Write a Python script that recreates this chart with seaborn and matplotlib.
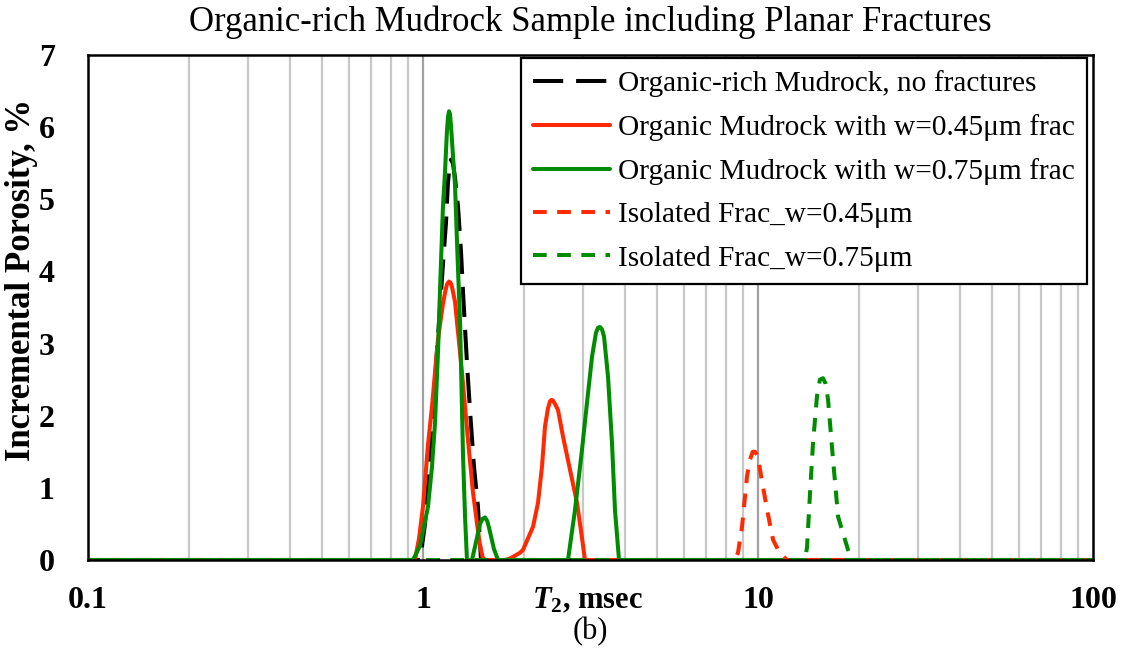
import numpy as np
import pandas as pd
import matplotlib
matplotlib.use("Agg")
import matplotlib.pyplot as plt
import seaborn as sns

# ---------------- data ----------------
t2_base = [0.1, 0.98, 1.014, 1.049, 1.086, 1.124, 1.147, 1.171, 1.187, 1.2, 1.212, 1.228, 1.246,
           1.272, 1.299, 1.317, 1.353, 1.381, 1.42, 1.459, 1.49, 100]
por_base = [0, 0, 0.5, 1.44, 2.5, 3.5, 4.1, 4.67, 5.23, 5.45, 5.55, 5.5, 5.3,
            4.9, 4.26, 3.7, 2.73, 2.08, 1.29, 0.74, 0, 0]

t2_w45 = [0.1, 0.9465, 0.973, 1.0, 1.035, 1.064, 1.086, 1.109, 1.147, 1.165, 1.179, 1.196,
          1.21, 1.221, 1.246, 1.3075, 1.362, 1.409, 1.45, 1.48, 1.51, 1.54,
          1.757, 1.8185, 1.948, 1.988, 2.13, 2.204, 2.266, 2.313, 2.36, 2.394, 2.42, 2.444,
          2.48, 2.529, 2.618, 2.747, 2.883, 2.98, 3.045, 100]
por_w45 = [0, 0, 0.3, 0.74, 1.6, 2.13, 2.6, 3.07, 3.55, 3.72, 3.82, 3.86,
           3.84, 3.78, 3.58, 2.6, 1.67, 0.95, 0.5, 0.2, 0.02, 0,
           0, 0.02, 0.1, 0.14, 0.46, 0.79, 1.3, 1.85, 2.1, 2.2, 2.22, 2.21,
           2.16, 2.08, 1.71, 1.25, 0.79, 0.32, 0.0, 0]

t2_w75 = [0.1, 0.9336, 0.98, 1.035, 1.064, 1.086, 1.109, 1.124, 1.147, 1.163, 1.179,
          1.188, 1.196, 1.204, 1.213, 1.229, 1.246, 1.268, 1.29, 1.317, 1.335, 1.353,
          1.4005, 1.44, 1.48, 1.505, 1.5315, 1.555, 1.574, 1.629, 1.675,
          2.709, 2.842, 2.983, 3.087, 3.196, 3.284, 3.33, 3.376, 3.42, 3.470, 3.567,
          3.666, 3.742, 3.847, 100]
por_w75 = [0, 0, 0.2, 0.74, 1.3, 1.9, 2.9, 3.74, 4.9, 5.37, 5.95,
           6.15, 6.22, 6.18, 6.0, 5.6, 5.2, 4.2, 3.29, 1.43, 0.6, 0,
           0, 0.25, 0.5, 0.57, 0.59, 0.54, 0.45, 0.15, 0,
           0, 0.69, 1.53, 2.18, 2.82, 3.15, 3.22, 3.23, 3.2, 3.1, 2.54,
           1.62, 0.69, 0, 0]

t2_iso45 = [0.1, 8.537, 8.714, 8.959, 9.272, 9.465, 9.64, 9.795, 9.96, 10.14,
            10.64, 11.09, 11.6, 12.21, 100]
por_iso45 = [0, 0, 0.1, 0.46, 1.16, 1.39, 1.5, 1.5, 1.45, 1.25,
             0.7, 0.28, 0.1, 0, 0]

t2_iso75 = [0.1, 13.81, 14.01, 14.30, 14.60, 15.00, 15.3, 15.63, 15.9, 16.18,
            16.75, 17.34, 18.57, 19.08, 100]
por_iso75 = [0, 0, 0.18, 0.93, 1.63, 2.27, 2.5, 2.52, 2.45, 2.23,
             1.39, 0.6, 0.14, 0, 0]

labels = ["Organic-rich Mudrock, no fractures",
          "Organic Mudrock with w=0.45\u03bcm frac",
          "Organic Mudrock with w=0.75\u03bcm frac",
          "Isolated Frac_w=0.45\u03bcm",
          "Isolated Frac_w=0.75\u03bcm"]
x_ticks = [0.1, 1, 10, 100]
x_ticklabels = ["0.1", "1", "10", "100"]
y_ticks = [0, 1, 2, 3, 4, 5, 6, 7]

title = "Organic-rich Mudrock Sample including Planar Fractures"
ylabel = "Incremental Porosity, %"

# ---------------- style ----------------
sns.set_theme(style="white")
plt.rcParams['font.family'] = ['Liberation Serif', 'DejaVu Serif']
plt.rcParams['mathtext.fontset'] = 'custom'
plt.rcParams['mathtext.rm'] = 'Liberation Serif'
plt.rcParams['mathtext.it'] = 'Liberation Serif:italic'
plt.rcParams['mathtext.bf'] = 'Liberation Serif:bold'
plt.rcParams['mathtext.bfit'] = 'Liberation Serif:italic:bold'
for k in ['text.color', 'axes.labelcolor', 'xtick.color', 'ytick.color']:
    plt.rcParams[k] = 'black'

RED = "#FF2A00"
GREEN = "#008C00"
LW = 2.9

fig = plt.figure(figsize=(11.22, 6.54), dpi=100)
ax = fig.add_axes([88/1122, 1-560/654, (1093-88)/1122, (560-55)/654])

series = [
    (t2_base, por_base, "black", (0, (7.5, 3.2))),
    (t2_w45, por_w45, RED, "-"),
    (t2_w75, por_w75, GREEN, "-"),
    (t2_iso45, por_iso45, RED, (0, (3.4, 2.6))),
    (t2_iso75, por_iso75, GREEN, (0, (3.4, 2.6))),
]
for (x, y, c, ls), lab in zip(series, labels):
    df = pd.DataFrame({"T2": x, "por": y})
    sns.lineplot(data=df, x="T2", y="por", ax=ax, color=c, linestyle=ls,
                 linewidth=LW, estimator=None, sort=False, label=lab)

ax.set_xscale("log")
ax.set_xlim(0.1, 100)
ax.set_ylim(0, 7)

# gridlines
for dec in [0.1, 1, 10]:
    for m in range(2, 10):
        ax.axvline(dec * m, color="#c8c8c8", lw=1.6, zorder=0)
for v in [1, 10]:
    ax.axvline(v, color="#a0a0a0", lw=1.6, zorder=0)

ax.set_xticks(x_ticks)
ax.set_xticklabels(x_ticklabels)
ax.set_xticks([], minor=True)
ax.set_yticks(y_ticks)
ax.tick_params(axis="both", length=0, labelsize=23)
ax.tick_params(axis="x", pad=19)
ax.tick_params(axis="y", pad=24)
for lbl in ax.get_xticklabels() + ax.get_yticklabels():
    lbl.set_fontweight("bold")

for sp in ax.spines.values():
    sp.set_color("black")
    sp.set_linewidth(1.8)

ax.set_xlabel("")
ax.set_ylabel("")
fig.text(22/1122, 1-280/654, ylabel, fontsize=25, fontweight="bold",
         rotation=90, ha="center", va="center")
fig.text(590/1122, 1-22/654, title, fontsize=25, ha="center", va="center")

fig.text(588/1122, 1-601/654, r"$\mathbfit{T}_{\mathbf{2}}$" + ", msec",
         fontsize=22, fontweight="bold", ha="center", va="center")
fig.text(590/1122, 1-632/654, "(b)", fontsize=22, ha="center", va="center")

leg = ax.legend(loc="upper right", bbox_to_anchor=((1087-88)/1005, (560-58)/505),
                borderaxespad=0, fontsize=21.2, frameon=True, fancybox=False,
                handlelength=2.6, handletextpad=0.28, labelspacing=0.57,
                borderpad=0.42)
leg.get_frame().set_edgecolor("black")
leg.get_frame().set_linewidth(1.6)
leg.get_frame().set_alpha(1)

fig.savefig("out.png", dpi=100)
